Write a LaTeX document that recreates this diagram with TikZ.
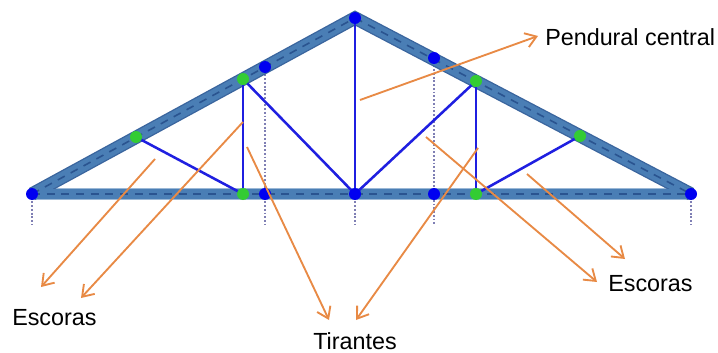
\documentclass[tikz,border=0pt]{standalone}
\usepackage{fontspec}
\setmainfont{Liberation Sans}
\usetikzlibrary{arrows.meta}
\definecolor{beam}{HTML}{4A7EB5}
\definecolor{beamedge}{HTML}{3A659E}
\definecolor{beamdash}{HTML}{2A5490}
\definecolor{memb}{HTML}{1F1FE0}
\definecolor{jointb}{HTML}{0000F0}
\definecolor{jointg}{HTML}{33CC33}
\definecolor{orangeline}{HTML}{E88A45}
\definecolor{dots}{HTML}{7F7FB4}
\tikzset{
  x=0.75pt,y=-0.75pt,
  bj/.style={circle,fill=jointb,inner sep=0pt,minimum size=9pt},
  gj/.style={circle,fill=jointg,inner sep=0pt,minimum size=9pt},
  beamouter/.style={line width=10pt,draw=beamedge},
  beamfill/.style={line width=8pt,draw=beam},
  beamline/.style={line width=1.2pt,draw=beamdash,dash pattern=on 6pt off 5pt},
  member/.style={line width=1.9pt,draw=memb},
  support/.style={line width=1.3pt,draw=dots,dash pattern=on 1.4pt off 1.4pt},
  pointer/.style={line width=1.4pt,draw=orangeline,-{Straight Barb[length=8pt,width=11pt]}},
  lbl/.style={font=\fontsize{17.5}{20}\selectfont,text=black,inner sep=0pt}
}
\begin{document}
\begin{tikzpicture}
\useasboundingbox (0,0) rectangle (718,353);
% coordinates of joints
\coordinate (L) at (32,194);
\coordinate (R) at (691,194);
\coordinate (A) at (355,18);
\coordinate (M) at (355,194);
\coordinate (G1) at (136,137);
\coordinate (G2) at (243,79);
\coordinate (G3) at (476,81);
\coordinate (G4) at (580,136);
\coordinate (B1) at (243,194);
\coordinate (B2) at (476,194);
\coordinate (P1) at (265,67);
\coordinate (P2) at (434,58);
\coordinate (Q1) at (265,194);
\coordinate (Q2) at (434,194);
\coordinate (S0) at (32,225);
\coordinate (S1) at (265,225);
\coordinate (S2) at (355,225);
\coordinate (S3) at (434,225);
\coordinate (S4) at (691,225);
% supports
\draw[support] (L) -- (S0);
\draw[support] (P1) -- (S1);
\draw[support] (M) -- (S2);
\draw[support] (P2) -- (S3);
\draw[support] (R) -- (S4);
% chords
\draw[beamouter,line width=9pt,draw=beam!55!white] (L) -- (R);
\draw[beamouter] (L) -- (A) -- (R);
\draw[beamfill,line width=7.5pt] (L) -- (R);
\draw[beamfill] (L) -- (A) -- (R);
\draw[beamline] (L) -- (R);
\draw[beamline] (L) -- (A);
\draw[beamline] (A) -- (R);
% members
\draw[member] (A) -- (M);
\draw[member] (G2) -- (B1);
\draw[member] (G3) -- (B2);
\draw[member] (G1) -- (B1);
\draw[member] (G2) -- (M);
\draw[member] (G3) -- (M);
\draw[member] (G4) -- (B2);
% joints
\node[bj] (nL) at (L) {};
\node[bj] (nR) at (R) {};
\node[bj] (nA) at (A) {};
\node[bj] (nM) at (M) {};
\node[bj] (nP1) at (P1) {};
\node[bj] (nP2) at (P2) {};
\node[bj] (nQ1) at (Q1) {};
\node[bj] (nQ2) at (Q2) {};
\node[gj] (nG1) at (G1) {};
\node[gj] (nG2) at (G2) {};
\node[gj] (nG3) at (G3) {};
\node[gj] (nG4) at (G4) {};
\node[gj] (nB1) at (B1) {};
\node[gj] (nB2) at (B2) {};
% pointers
\coordinate (a1s) at (155,159); \coordinate (a1e) at (41,287);
\coordinate (a2s) at (243,122); \coordinate (a2e) at (81,298);
\coordinate (a3s) at (247,147); \coordinate (a3e) at (329,320);
\coordinate (a4s) at (478,148); \coordinate (a4e) at (356,320);
\coordinate (a5s) at (426,137); \coordinate (a5e) at (597,282);
\coordinate (a6s) at (527,174); \coordinate (a6e) at (625,259);
\coordinate (a7s) at (360,100); \coordinate (a7e) at (538,36);
\draw[pointer] (a1s) -- (a1e);
\draw[pointer] (a2s) -- (a2e);
\draw[pointer] (a3s) -- (a3e);
\draw[pointer] (a4s) -- (a4e);
\draw[pointer] (a5s) -- (a5e);
\draw[pointer] (a6s) -- (a6e);
\draw[pointer] (a7s) -- (a7e);
% labels
\node[lbl,anchor=base west] (t1) at (545,46) {Pendural central};
\node[lbl,anchor=base west] (t2) at (12,325) {Escoras};
\node[lbl,anchor=base west] (t3) at (608,291) {Escoras};
\node[lbl,anchor=base west] (t4) at (313,349) {Tirantes};
\end{tikzpicture}
\end{document}
